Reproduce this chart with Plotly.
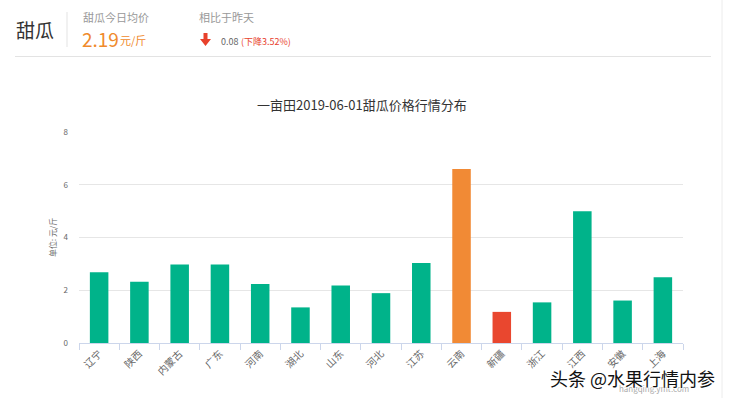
import plotly.graph_objects as go

# ---- data ----
regions = ["辽宁", "陕西", "内蒙古", "广东", "河南", "湖北", "山东", "河北",
           "江苏", "云南", "新疆", "浙江", "江西", "安徽", "上海"]
prices = [2.68, 2.32, 2.98, 2.98, 2.24, 1.35, 2.18, 1.89,
          3.03, 6.60, 1.18, 1.54, 5.00, 1.61, 2.49]
y_ticks = [0, 2, 4, 6, 8]
title_text = "一亩田2019-06-01甜瓜价格行情分布"
product = "甜瓜"
avg_price = "2.19"
change_abs = "0.08"
change_pct = "(下降3.52%)"

GREEN = "#00b38a"
ORANGE = "#f18a35"
RED = "#e9472f"
max_i = prices.index(max(prices))
min_i = prices.index(min(prices))
colors = [ORANGE if i == max_i else RED if i == min_i else GREEN for i in range(len(prices))]

W, H = 729, 398
L, R, T, B = 79, 683, 132, 343
FONT = "Noto Sans CJK SC, Microsoft YaHei, sans-serif"


def px(x):
    return (x - L) / (R - L)


def py(y):
    return (B - y) / (B - T)


fig = go.Figure(go.Bar(x=regions, y=prices, marker=dict(color=colors, line=dict(width=0)),
                       hoverinfo="x+y"))

fig.update_layout(
    width=W, height=H,
    margin=dict(l=L, r=W - R, t=T, b=H - B, pad=0),
    paper_bgcolor="white", plot_bgcolor="white",
    font=dict(family=FONT, color="#666"),
    bargap=0.54,
    showlegend=False,
)
fig.update_xaxes(
    type="category", showline=True, linecolor="#ccd6eb", linewidth=1,
    ticks="outside", tickson="boundaries", ticklen=6, tickcolor="#ccd6eb",
    tickangle=-45, tickfont=dict(size=10, color="#666", family=FONT),
    showgrid=False, zeroline=False, fixedrange=True,
)
fig.update_yaxes(
    range=[0, 8], tickvals=y_ticks, showgrid=True, gridcolor="#e6e6e6", gridwidth=1,
    zeroline=False, showline=False, ticks="", ticklabelstandoff=10,
    tickfont=dict(size=8, color="#666", family=FONT), fixedrange=True,
)

ann = []


def add_text(text, x, y, size, color, xanchor="left", yanchor="middle", angle=0, shadow=None):
    f = dict(size=size, color=color, family=FONT)
    if shadow:
        f["shadow"] = shadow
    ann.append(dict(text=text, x=px(x), y=py(y), xref="paper", yref="paper",
                    xanchor=xanchor, yanchor=yanchor, showarrow=False, font=f,
                    textangle=angle))


# header
add_text(product, 14, 30, 19, "#333")
add_text("甜瓜今日均价", 81, 17, 11, "#999")
add_text(avg_price, 80, 38, 19, "#f08a2c")
add_text("元/斤", 118, 40, 11, "#f08a2c")
add_text("相比于昨天", 197, 17, 11, "#999")
add_text(change_abs, 219, 41, 9, "#666")
add_text(change_pct, 239, 41, 9, "#e8412c")
# title
add_text(title_text, 362, 105, 13, "#333", xanchor="center")
# y-axis title
add_text("单位: 元/斤", 52, 238, 8, "#666", xanchor="center", angle=-90)
# watermarks
add_text("hangqing.ymt.com", 654, 388, 8, "#aaa", xanchor="center")
add_text("头条 @水果行情内参", 632, 378, 18, "#111", xanchor="center",
         shadow="1px 1px 1px #fff, -1px -1px 1px #fff, 1px -1px 1px #fff, -1px 1px 1px #fff")
fig.update_layout(annotations=ann)

shapes = [
    # header bottom line
    dict(type="line", xref="paper", yref="paper", x0=px(15), x1=px(711), y0=py(56.5), y1=py(56.5),
         line=dict(color="#e3e3e3", width=1)),
    # header vertical divider
    dict(type="line", xref="paper", yref="paper", x0=px(67), x1=px(67), y0=py(12), y1=py(47),
         line=dict(color="#e3e3e3", width=1)),
    # right border
    dict(type="line", xref="paper", yref="paper", x0=px(722), x1=px(722), y0=py(0), y1=py(398),
         line=dict(color="#ececec", width=1)),
]
# down arrow
ax, ay = 205.5, 33
arrow = (f"M {px(ax-2)} {py(ay)} L {px(ax+2)} {py(ay)} L {px(ax+2)} {py(ay+6)} "
         f"L {px(ax+5.5)} {py(ay+6)} L {px(ax)} {py(ay+13)} L {px(ax-5.5)} {py(ay+6)} "
         f"L {px(ax-2)} {py(ay+6)} Z")
shapes.append(dict(type="path", xref="paper", yref="paper", path=arrow,
                   fillcolor="#e8412c", line=dict(width=0)))
fig.update_layout(shapes=shapes)

fig.write_html("out.html", config={"displayModeBar": False},
               post_script="document.body.style.margin='0';document.body.style.overflow='hidden';")
